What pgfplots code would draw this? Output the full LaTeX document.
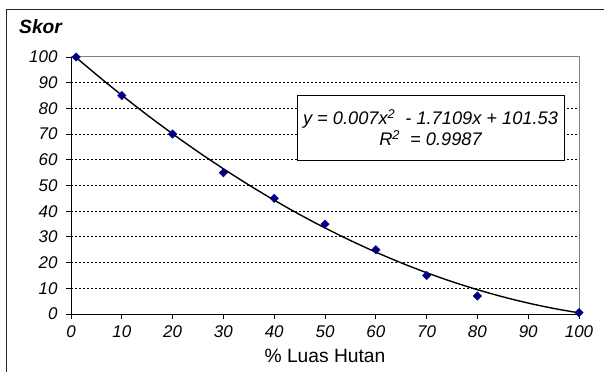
\documentclass[border=0pt]{standalone}
\usepackage{fontspec}
\setmainfont{Liberation Sans}
\usepackage{pgfplots}
\pgfplotsset{compat=1.18}
\definecolor{navy}{RGB}{0,0,128}
\begin{document}
\begin{tikzpicture}
\useasboundingbox (-71bp,-58bp) rectangle (533bp,314bp);
\draw[line width=1bp, black!85] (-64bp,-70bp) -- (-64bp,304bp) -- (545bp,304bp);
\begin{axis}[at={(0,0)}, anchor=south west, scale only axis,
  width=508bp, height=257bp,
  xmin=0, xmax=100, ymin=0, ymax=100,
  xtick={0,10,...,100}, ytick={0,10,...,100},
  axis x line*=bottom, axis y line*=left,
  axis line style={black, line width=0.8bp, -},
  tick style={black, line width=0.8bp},
  tick align=outside, major tick length=5bp,
  ymajorgrids, grid style={black, line width=1bp, dash pattern=on 2bp off 2bp},
  ticklabel style={font=\fontsize{17}{20}\selectfont\itshape},
  /pgf/number format/assume math mode=true,
  xticklabel style={yshift=-3bp},
  yticklabel style={xshift=-5bp},
  xlabel={\% Luas Hutan},
  xlabel style={at={(axis description cs:0.5,0)}, anchor=base, yshift=-48bp, inner sep=0pt,
    font=\fontsize{19.3}{23}\selectfont},
  title={Skor},
  title style={at={(axis description cs:0,1)}, anchor=base west, xshift=-52bp, yshift=18bp,
    inner sep=0pt, font=\fontsize{19.3}{23}\selectfont\bfseries\itshape},
  clip=false,
]
\draw[gray, line width=1bp] (rel axis cs:1,0) -- (rel axis cs:1,1) -- (rel axis cs:0,1);
\addplot[black, line width=1.4bp, smooth, no marks] coordinates {
(1,99.83) (5,93.15) (10,85.12) (15,77.44) (20,70.11) (25,63.13) (30,56.50) (35,50.22)
(40,44.29) (45,38.71) (50,33.49) (55,28.61) (60,24.08) (65,19.90) (70,16.07) (75,12.59)
(80,9.46) (85,6.68) (90,4.25) (95,2.17) (100,0.44)};
\addplot[only marks, mark=square*, mark size=3bp, mark options={rotate=45, fill=navy, draw=navy}] coordinates {
(1,100) (10,85) (20,70) (30,55) (40,45) (50,35) (60,25) (70,15) (80,7) (100,0.5)};
\node[draw=black, line width=0.8bp, fill=white, minimum width=267bp, minimum height=65bp,
  align=center, inner sep=0pt, font={\fontsize{18.3}{21}\selectfont\itshape}]
  at (axis cs:70.77,72.57) {y = 0.007x\textsuperscript{2}\ \ - 1.7109x + 101.53\\R\textsuperscript{2}\ \ = 0.9987};
\end{axis}
\end{tikzpicture}
\end{document}
